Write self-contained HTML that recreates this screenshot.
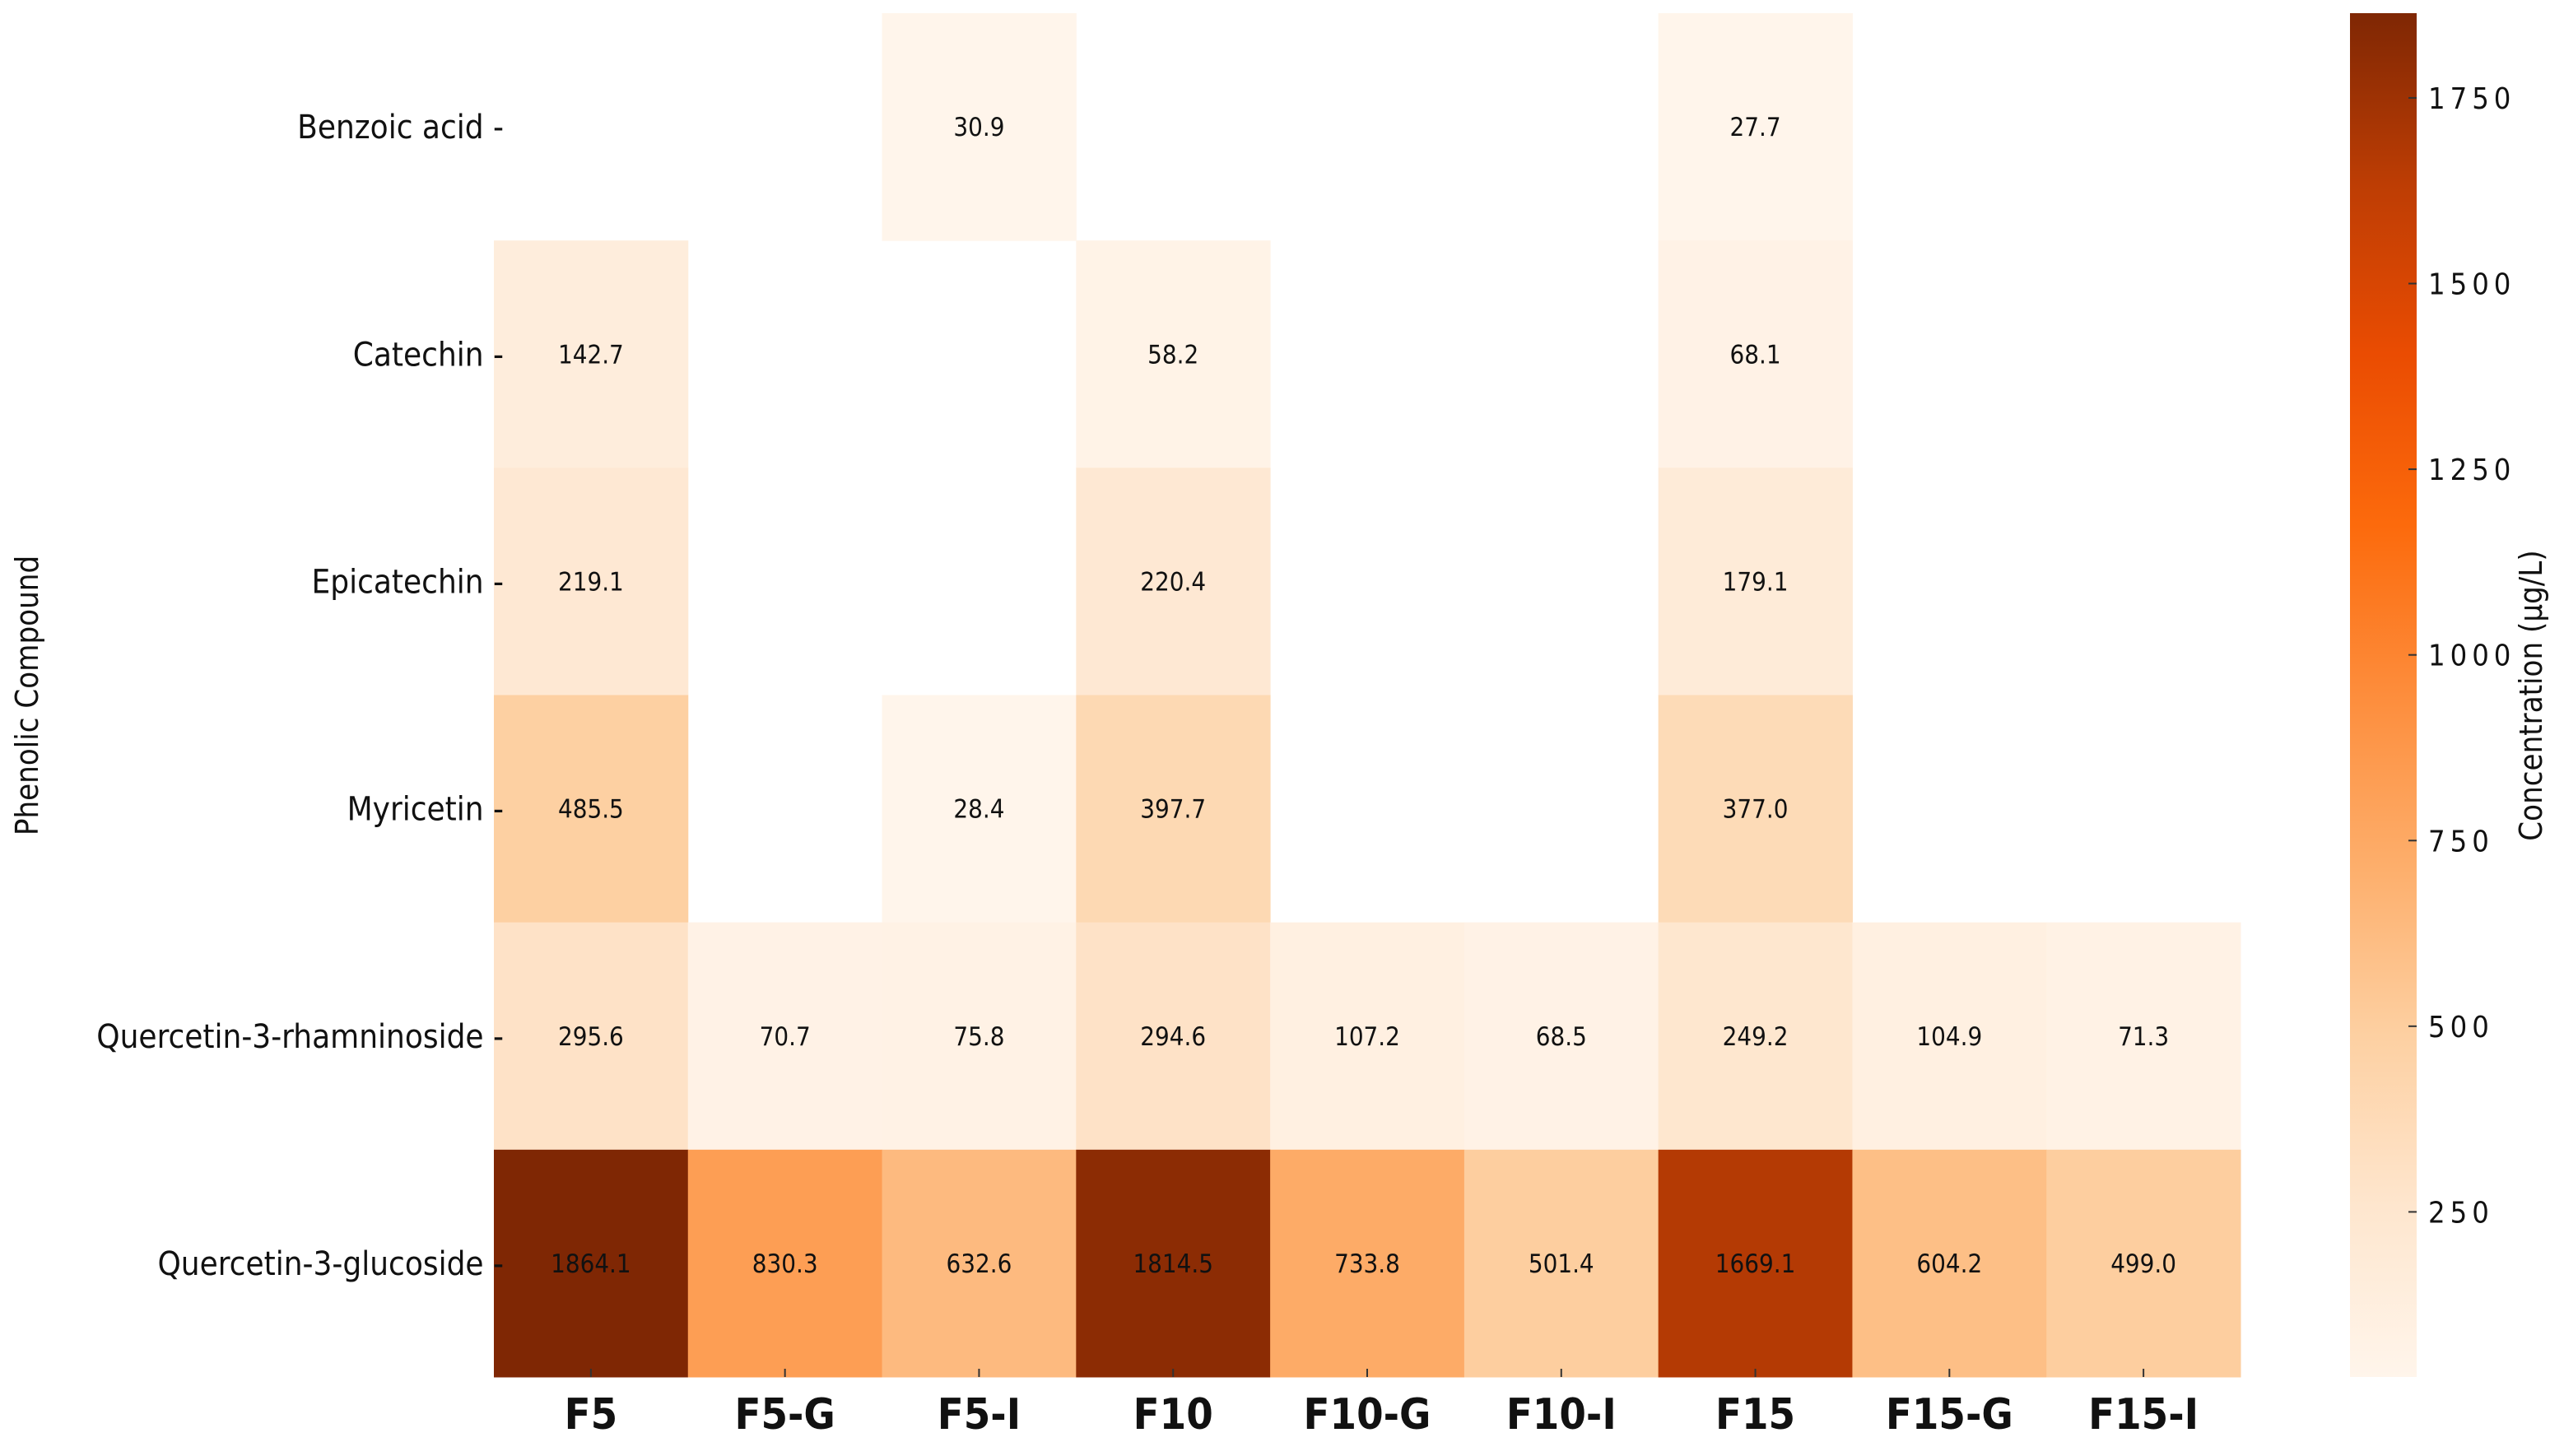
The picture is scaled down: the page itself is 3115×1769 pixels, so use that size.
<!DOCTYPE html>
<html><head><meta charset="utf-8"><style>
html,body{margin:0;padding:0;background:#fff;}
svg{display:block;}
text{font-family:"DejaVu Sans Condensed","DejaVu Sans","Liberation Sans",sans-serif;}
</style></head><body>
<svg id="chart" width="3115" height="1769" viewBox="0 0 3115 1769" xmlns="http://www.w3.org/2000/svg">
<defs>
<linearGradient id="cbgrad" x1="0" y1="1" x2="0" y2="0">
<stop offset="0" stop-color="#fff5eb"/><stop offset="0.125" stop-color="#fee6ce"/>
<stop offset="0.25" stop-color="#fdd0a2"/><stop offset="0.375" stop-color="#fdae6b"/>
<stop offset="0.5" stop-color="#fd8d3c"/><stop offset="0.625" stop-color="#fc6a0c"/>
<stop offset="0.75" stop-color="#ea4c02"/><stop offset="0.875" stop-color="#bd3d04"/>
<stop offset="1" stop-color="#7f2704"/>
</linearGradient>
</defs>
<g id="cells"></g>
<g id="labels"></g>
<rect x="2855" y="16" width="81" height="1657" fill="url(#cbgrad)"/>
<g id="cbticks"></g>
<text transform="translate(46,845) rotate(-90)" text-anchor="middle" font-size="38" fill="#111">Phenolic Compound</text>
<text transform="translate(3088,845) rotate(-90)" text-anchor="middle" font-size="38" fill="#111">Concentration (μg/L)</text>
</svg>
<script>
const columns = ["F5","F5-G","F5-I","F10","F10-G","F10-I","F15","F15-G","F15-I"];
const rows = ["Benzoic acid","Catechin","Epicatechin","Myricetin","Quercetin-3-rhamninoside","Quercetin-3-glucoside"];
const benzoic = [null,null,30.9,null,null,null,27.7,null,null];
const catechin = [142.7,null,null,58.2,null,null,68.1,null,null];
const epicatechin = [219.1,null,null,220.4,null,null,179.1,null,null];
const myricetin = [485.5,null,28.4,397.7,null,null,377.0,null,null];
const rhamninoside = [295.6,70.7,75.8,294.6,107.2,68.5,249.2,104.9,71.3];
const glucoside = [1864.1,830.3,632.6,1814.5,733.8,501.4,1669.1,604.2,499.0];
const cbTicks = [250,500,750,1000,1250,1500,1750];
const vmin = 27.7, vmax = 1864.1;

const values = [benzoic,catechin,epicatechin,myricetin,rhamninoside,glucoside];
const NS = "http://www.w3.org/2000/svg";
const L = 600, R = 2722, T = 16, B = 1673;
const cw = (R-L)/columns.length, rh = (B-T)/rows.length;
const xPos = i => L + i*cw;
const yPos = j => T + j*rh;
const cbY = v => 1673 - (v - vmin)/(vmax - vmin)*1657;

const stops = ["#fff5eb","#fee6ce","#fdd0a2","#fdae6b","#fd8d3c","#fc6a0c","#ea4c02","#bd3d04","#7f2704"];
function hex(h){return [1,3,5].map(k=>parseInt(h.substr(k,2),16));}
function color(v){
  let t = Math.max(0,Math.min(1,(v-vmin)/(vmax-vmin)))*(stops.length-1);
  let i = Math.min(Math.floor(t), stops.length-2), f = t-i;
  const a = hex(stops[i]), b = hex(stops[i+1]);
  return "rgb("+a.map((c,k)=>Math.round(c+(b[k]-c)*f)).join(",")+")";
}
function mk(tag, attrs, parent, txt){
  const e = document.createElementNS(NS, tag);
  for (const k in attrs) e.setAttribute(k, attrs[k]);
  if (txt !== undefined) e.textContent = txt;
  parent.appendChild(e);
  return e;
}
const cells = document.getElementById("cells");
const labels = document.getElementById("labels");
values.forEach((row, j) => {
  row.forEach((v, i) => {
    if (v === null) return;
    const r = mk("rect", {x: xPos(i), y: yPos(j), width: cw+0.5, height: rh+0.5, fill: color(v)}, cells);
    
    
    const t = mk("text", {x: xPos(i)+cw/2, y: yPos(j)+rh/2+11, "text-anchor": "middle", "font-size": 31, fill: "#111"}, cells, v.toFixed(1));
    
    
  });
});
rows.forEach((name, j) => {
  const t = mk("text", {x: 612, y: yPos(j)+rh/2+14, "text-anchor": "end", "font-size": 40, fill: "#111"}, labels, name + " -");
  
  
});
columns.forEach((name, i) => {
  const tk = mk("line", {x1: xPos(i)+cw/2, x2: xPos(i)+cw/2, y1: B-10, y2: B, stroke: "#333", "stroke-width": 2}, labels);
  
  
  const t = mk("text", {x: xPos(i)+cw/2, y: 1736, "text-anchor": "middle", "font-size": 52, "font-weight": "bold", fill: "#111"}, labels, name);
  
  
});
const cbt = document.getElementById("cbticks");
cbTicks.forEach(v => {
  const y = cbY(v);
  const l = mk("line", {x1: 2926, x2: 2936, y1: y, y2: y, stroke: "#333", "stroke-width": 2}, cbt);
  
  
  const t = mk("text", {x: 2950, y: y+13, "font-size": 36, "letter-spacing": "6", fill: "#111", "font-family": "DejaVu Sans, sans-serif"}, cbt, String(v));
  
  
});
</script>
</body></html>
